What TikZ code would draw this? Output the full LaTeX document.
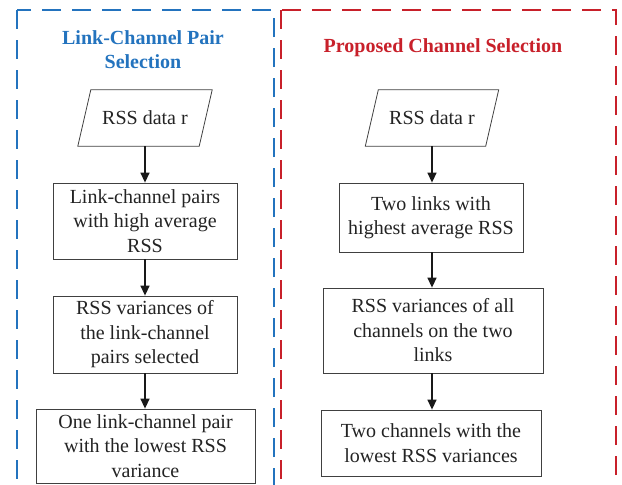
\documentclass[tikz,border=0pt]{standalone}
\usepackage{fontspec}
\setmainfont{Liberation Serif}
\usetikzlibrary{arrows.meta,calc}
\definecolor{myblue}{RGB}{35,115,190}
\definecolor{myred}{RGB}{200,32,42}
\definecolor{txt}{RGB}{35,35,35}
\tikzset{
  stepbox/.style={draw=black!75, line width=0.8pt, align=center, text=txt, inner sep=2pt,
    font=\fontsize{20}{24.5}\selectfont},
  iobox/.style={align=center, text=txt, inner sep=2pt, font=\fontsize{20}{24.5}\selectfont},
  flow/.style={line width=1.4pt, black!90, -{Triangle[length=10pt,width=9pt]}},
  frame/.style={line width=2pt, dash pattern=on 19pt off 11pt},
  ttl/.style={align=center, font=\fontsize{20}{24}\selectfont\bfseries}
}
\begin{document}
\begin{tikzpicture}[x=1pt,y=-1pt]
\useasboundingbox (0,0) rectangle (622,485);
\clip (0,0) rectangle (622,485);
% frames
\draw[frame, myblue] (17,10) rectangle (274,510);
\draw[frame, myred] (281,10) rectangle (616,510);
% titles
\node[ttl, text=myblue] (t1) at (143,50) {Link-Channel Pair\\Selection};
\node[ttl, text=myred] (t2) at (443,48) {Proposed Channel Selection};
% left column
\node[iobox, minimum width=121pt, minimum height=56pt] (p1) at (145,118) {RSS data r};
\draw[black!75, line width=0.8pt] ([xshift=6.5pt]p1.north west) -- ([xshift=6.5pt]p1.north east)
  -- ([xshift=-6.5pt]p1.south east) -- ([xshift=-6.5pt]p1.south west) -- cycle;
\node[stepbox, minimum width=184pt, minimum height=76pt] (b1) at (145,221) {Link-channel pairs\\with high average\\RSS};
\node[stepbox, minimum width=184pt, minimum height=77pt] (b2) at (145,334.5) {RSS variances of\\the link-channel\\pairs selected};
\node[stepbox, minimum width=219pt, minimum height=74pt] (b3) at (145.5,446) {One link-channel pair\\with the lowest RSS\\variance};
\draw[flow] (p1.south) -- (p1.south |- b1.north);
\draw[flow] (b1.south) -- (b1.south |- b2.north);
\draw[flow] (b2.south) -- (b2.south |- b3.north);
% right column
\node[iobox, minimum width=120pt, minimum height=56pt] (p2) at (432,118) {RSS data r};
\draw[black!75, line width=0.8pt] ([xshift=6.5pt]p2.north west) -- ([xshift=6.5pt]p2.north east)
  -- ([xshift=-6.5pt]p2.south east) -- ([xshift=-6.5pt]p2.south west) -- cycle;
\node[stepbox, minimum width=184pt, minimum height=69pt] (r1) at (431,217.5) {Two links with\\highest average RSS};
\node[stepbox, minimum width=220pt, minimum height=85pt] (r2) at (433,330.5) {RSS variances of all\\channels on the two\\links};
\node[stepbox, minimum width=220pt, minimum height=66pt] (r3) at (431,443) {Two channels with the\\lowest RSS variances};
\draw[flow] (p2.south) -- (p2.south |- r1.north);
\draw[flow] (p2.south |- r1.south) -- (p2.south |- r2.north);
\draw[flow] (p2.south |- r2.south) -- (p2.south |- r3.north);
\end{tikzpicture}
\end{document}
